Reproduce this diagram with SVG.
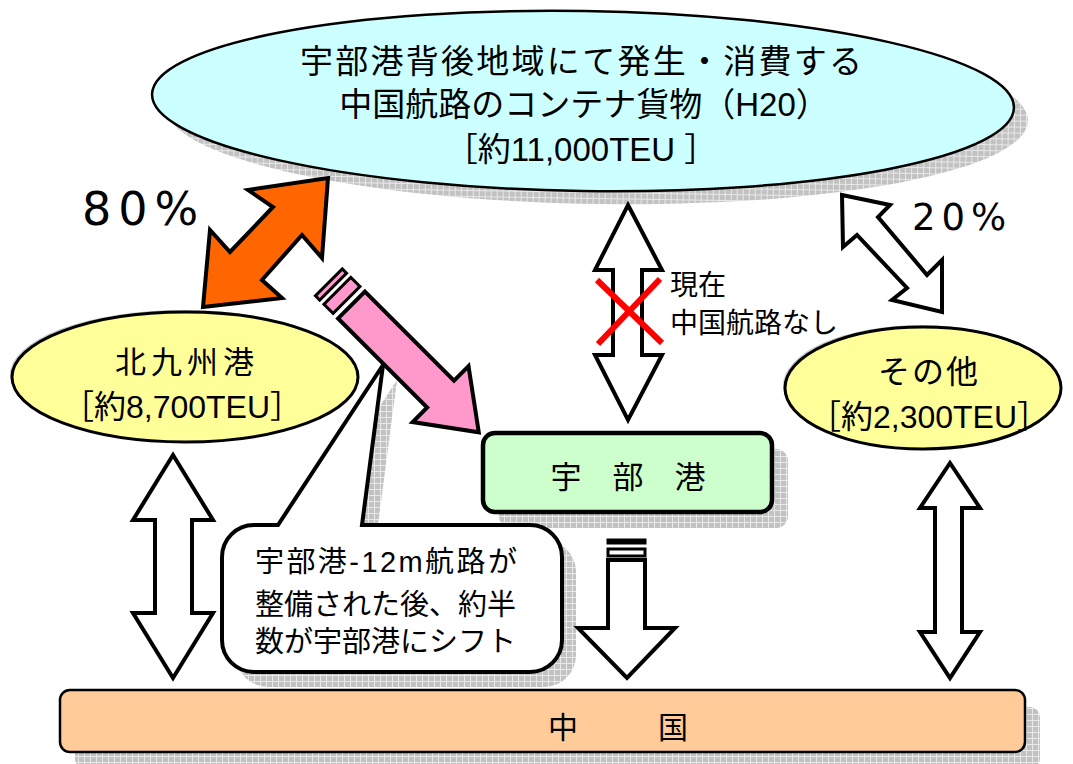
<svg xmlns="http://www.w3.org/2000/svg" width="1073" height="764" viewBox="0 0 1073 764">
<defs>
<pattern id="grid" width="6" height="6" patternUnits="userSpaceOnUse">
<rect width="6" height="6" fill="#c2c2c2"/>
<path d="M0,0.5H6M0.5,0V6" stroke="#e8e8e8" stroke-width="1"/>
</pattern>
<style>
text{font-family:"Liberation Sans","Noto Sans CJK JP",sans-serif;fill:#000}
.pct{font-family:"DejaVu Sans","Liberation Sans",sans-serif}
.shadow{fill:url(#grid);stroke:none}
.arr{fill:#fff;stroke:#000;stroke-width:4;stroke-linejoin:miter}
</style>
</defs>
<rect width="1073" height="764" fill="#fff"/>

<g id="source">
<ellipse class="shadow" cx="597" cy="114" rx="431" ry="90" transform="rotate(0.9 597 114)"/>
<ellipse cx="583" cy="101" rx="431" ry="90" fill="#CCFFFF" stroke="#000" stroke-width="2.5" transform="rotate(0.9 583 101)"/>
<text x="581" y="73" font-size="33" text-anchor="middle" textLength="562">宇部港背後地域にて発生・消費する</text>
<text x="584" y="116" font-size="33" text-anchor="middle">中国航路のコンテナ貨物（H20）</text>
<text x="581" y="161" font-size="33" text-anchor="middle">［約11,000TEU ］</text>
</g>

<g id="kitakyushu">
<ellipse cx="183" cy="375" rx="173" ry="65" fill="#999" opacity="0.6"/>
<ellipse cx="185" cy="377" rx="173" ry="65" fill="#FFFF99" stroke="#000" stroke-width="3"/>
<text x="187" y="373" font-size="31" letter-spacing="5" text-anchor="middle">北九州港</text>
<text x="182" y="418" font-size="32" text-anchor="middle">［約8,700TEU］</text>
</g>

<g id="others">
<ellipse cx="921" cy="386" rx="138" ry="61" fill="#999" opacity="0.6"/>
<ellipse cx="923" cy="388" rx="138" ry="61" fill="#FFFF99" stroke="#000" stroke-width="3"/>
<text x="929" y="383" font-size="32" letter-spacing="2" text-anchor="middle">その他</text>
<text x="929" y="428" font-size="32" text-anchor="middle">［約2,300TEU］</text>
</g>

<g id="ube">
<rect class="shadow" x="499" y="449" width="289" height="79" rx="12"/>
<rect x="483" y="433" width="289" height="79" rx="12" fill="#CCFFCC" stroke="#000" stroke-width="4.5"/>
<text x="628" y="488" font-size="31" text-anchor="middle">宇　部　港</text>
</g>

<g id="china">
<rect class="shadow" x="75" y="707" width="965" height="62" rx="10"/>
<rect x="60" y="690" width="965" height="62" rx="10" fill="#FFCC99" stroke="#000" stroke-width="2.5"/>
<text x="548" y="738" font-size="30" letter-spacing="6.7">中　　国</text>
</g>

<g id="callout">
<path class="shadow" transform="translate(14,15)" d="M254,525 L278,525 L383,365 L362,525 L530,525 A32,32 0 0 1 562,557 L562,640 A32,32 0 0 1 530,672 L254,672 A32,32 0 0 1 222,640 L222,557 A32,32 0 0 1 254,525 Z"/>
<path d="M254,525 L278,525 L383,365 L362,525 L530,525 A32,32 0 0 1 562,557 L562,640 A32,32 0 0 1 530,672 L254,672 A32,32 0 0 1 222,640 L222,557 A32,32 0 0 1 254,525 Z" fill="#fff" stroke="#000" stroke-width="4" stroke-linejoin="miter"/>
<text x="255" y="572" font-size="29" textLength="262">宇部港-12m航路が</text>
<text x="255" y="615" font-size="29">整備された後、約半</text>
<text x="255" y="652" font-size="29">数が宇部港にシフト</text>
</g>

<g id="labels">
<text class="pct" x="82" y="225" font-size="46" letter-spacing="7">80%</text>
<text class="pct" x="912" y="230" font-size="37" letter-spacing="6">20%</text>
<text x="670" y="295" font-size="28">現在</text>
<text x="670" y="333" font-size="28">中国航路なし</text>
</g>

<g id="connectors">
<polygon points="328,178 322,258 302,235 262,280 282,298 203,307 210,230 230,252 273,207 248,190" fill="#FF6600" stroke="#000" stroke-width="4" stroke-linejoin="miter"/>
<g transform="translate(351.5,305) rotate(45)" fill="#FF99CC" stroke="#000" stroke-linejoin="miter">
<polygon points="0,-19 126,-19 126,-39.5 180,0 126,39.5 126,19 0,19" stroke-width="4"/>
<rect x="-20" y="-19" width="13" height="38" stroke-width="3"/>
<rect x="-32" y="-19" width="6" height="38" stroke-width="3"/>
</g>
<polygon class="arr" points="842,195 890,205 878,217 927,275 942,260 942,312 892,300 907,288 857,235 843,247"/>
<polygon class="arr" points="628,205 662,270 642,270 642,355 662,355 628,420 595,355 613,355 613,270 595,270"/>
<g stroke="#FF0000" stroke-width="6" stroke-linecap="butt">
<line x1="597" y1="280" x2="662" y2="343"/>
<line x1="660" y1="279" x2="598" y2="344"/>
</g>
<polygon class="arr" points="173,455 213,520 192,520 192,613 213,613 173,678 133,613 155,613 155,520 133,520"/>
<polygon class="arr" points="950,463 980,508 962,508 962,632 980,632 950,678 920,632 935,632 935,508 920,508"/>
<g class="arr">
<polygon points="608,560 645,560 645,628 675,628 627,678 578,628 608,628"/>
<rect x="608" y="549" width="37" height="7" stroke-width="3"/>
<rect x="608" y="540" width="37" height="3" stroke-width="3"/>
</g>
</g>
</svg>
